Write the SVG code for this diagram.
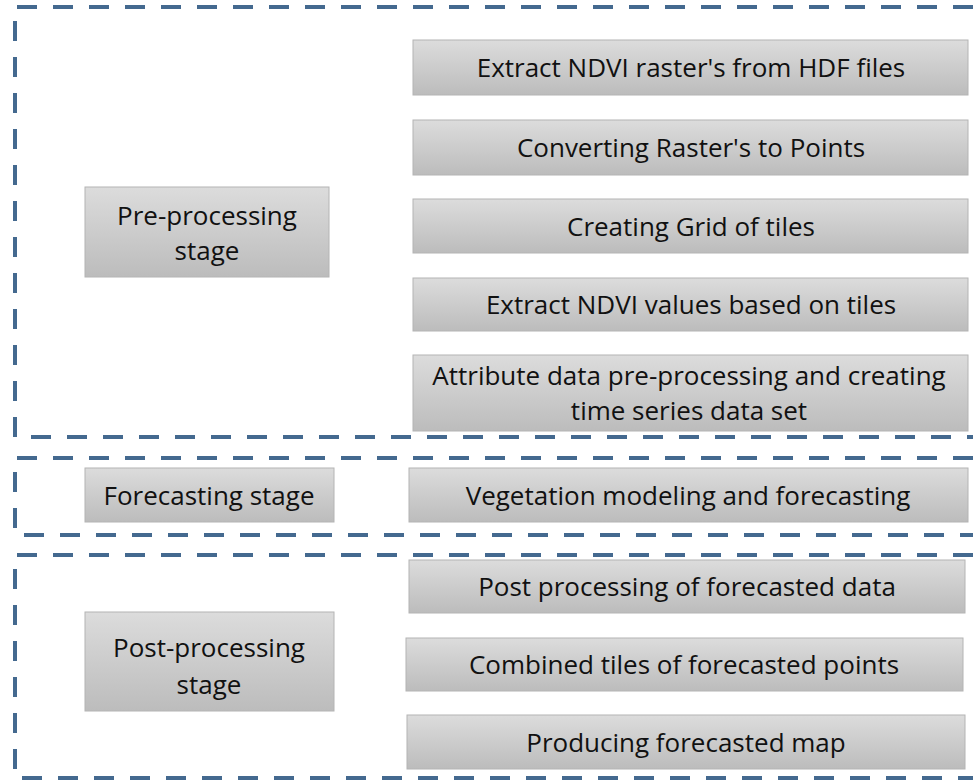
<svg xmlns="http://www.w3.org/2000/svg" width="973" height="780" viewBox="0 0 973 780">
<defs>
<linearGradient id="g" x1="0" y1="0" x2="0" y2="1">
<stop offset="0" stop-color="#dcdcdc"/>
<stop offset="1" stop-color="#bcbcbc"/>
</linearGradient>
</defs>
<style>
.stage{fill:none;stroke:#44698f;stroke-width:4;stroke-dasharray:20 16}
.box{fill:url(#g);stroke:#b4b4b4;stroke-width:1}
.t{font-family:"Open Sans","Noto Sans",sans-serif;font-size:26px;fill:#111;text-anchor:middle}
</style>
<rect width="973" height="780" fill="#fff"/>
<g id="connectors">
<path class="stage" d="M973,7 H15 V437 H973"/>
<path class="stage" d="M973,458 H15 V535 H973"/>
<path class="stage" d="M973,555 H15 V778 H973"/>
</g>
<g id="pre-stage"><rect class="box" x="85" y="187" width="244" height="90"/><text class="t" x="207" y="225">Pre-processing</text><text class="t" x="207" y="260">stage</text></g>
<g id="n1"><rect class="box" x="413" y="40" width="555" height="55"/><text class="t" x="691" y="77">Extract NDVI raster's from HDF files</text></g>
<g id="n2"><rect class="box" x="413" y="120" width="555" height="55"/><text class="t" x="691" y="157">Converting Raster's to Points</text></g>
<g id="n3"><rect class="box" x="413" y="199" width="555" height="54"/><text class="t" x="691" y="236">Creating Grid of tiles</text></g>
<g id="n4"><rect class="box" x="413" y="278" width="555" height="53"/><text class="t" x="691" y="314">Extract NDVI values based on tiles</text></g>
<g id="n5"><rect class="box" x="413" y="355" width="555" height="76"/><text class="t" x="689" y="385">Attribute data pre-processing and creating</text><text class="t" x="689" y="420">time series data set</text></g>
<g id="fc-stage"><rect class="box" x="85" y="468" width="249" height="54"/><text class="t" x="209" y="505">Forecasting stage</text></g>
<g id="n6"><rect class="box" x="409" y="468" width="559" height="54"/><text class="t" x="688" y="505">Vegetation modeling and forecasting</text></g>
<g id="post-stage"><rect class="box" x="85" y="612" width="249" height="99"/><text class="t" x="209" y="657">Post-processing</text><text class="t" x="209" y="694">stage</text></g>
<g id="n7"><rect class="box" x="409" y="560" width="556" height="53"/><text class="t" x="687" y="596">Post processing of forecasted data</text></g>
<g id="n8"><rect class="box" x="406" y="638" width="557" height="53"/><text class="t" x="684" y="674">Combined tiles of forecasted points</text></g>
<g id="n9"><rect class="box" x="407" y="715" width="558" height="54"/><text class="t" x="686" y="752">Producing forecasted map</text></g>
</svg>
